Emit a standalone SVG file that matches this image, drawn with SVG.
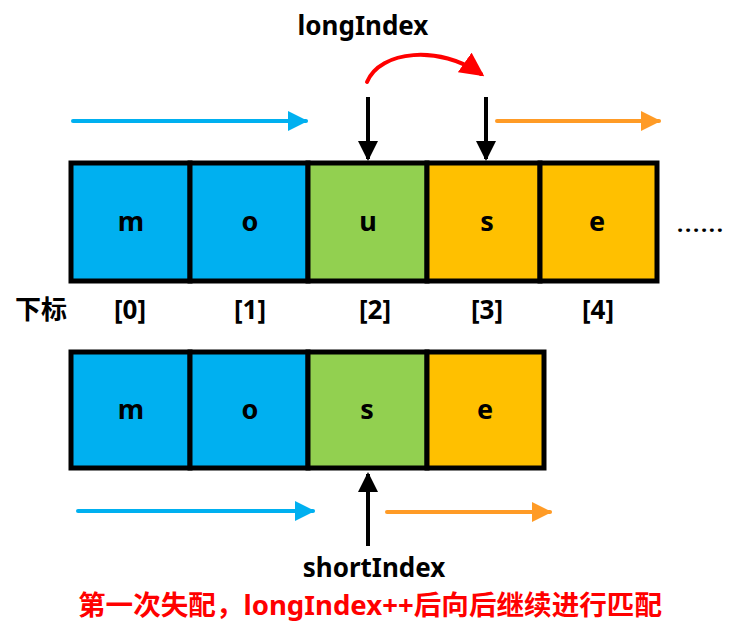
<svg xmlns="http://www.w3.org/2000/svg" width="738" height="635" viewBox="0 0 738 635">
<defs>
<style>
.cell{stroke:#000;stroke-width:5}
.b{fill:#00B0F0}.g{fill:#92D050}.y{fill:#FFC000}
.t{font-family:"Noto Sans","Noto Sans CJK SC",sans-serif;font-weight:bold;fill:#000}
.ch{font-size:27px;text-anchor:middle}
.idx{font-size:26px;text-anchor:middle}
.lbl{font-size:26px;text-anchor:middle}
.blk{stroke:#000;stroke-width:4;fill:none}
.bl{stroke:#00B0F0;stroke-width:4;fill:none;stroke-linecap:round}
.or{stroke:#FF9B26;stroke-width:4;fill:none;stroke-linecap:round}
.rd{stroke:#FF0000;stroke-width:4;fill:none;stroke-linecap:round}
</style>
<marker id="mk" markerWidth="5" markerHeight="5" refX="4.5" refY="2.5" orient="auto" markerUnits="strokeWidth"><path d="M0,0 L5,2.5 L0,5 z" fill="#000"/></marker>
<marker id="mb" markerWidth="5" markerHeight="5" refX="4.5" refY="2.5" orient="auto" markerUnits="strokeWidth"><path d="M0,0 L5,2.5 L0,5 z" fill="#00B0F0"/></marker>
<marker id="mo" markerWidth="5" markerHeight="5" refX="4.5" refY="2.5" orient="auto" markerUnits="strokeWidth"><path d="M0,0 L5,2.5 L0,5 z" fill="#FF9B26"/></marker>
<marker id="mr" markerWidth="6" markerHeight="6" refX="5" refY="3" orient="auto" markerUnits="strokeWidth"><path d="M0,0 L6,3 L0,6 z" fill="#FF0000"/></marker>
</defs>

<g id="top-0"><rect class="cell b" x="71" y="163" width="119" height="118"/><text class="t ch" x="131" y="231">m</text></g>
<g id="top-1"><rect class="cell b" x="190" y="163" width="118" height="118"/><text class="t ch" x="250" y="231">o</text></g>
<g id="top-2"><rect class="cell g" x="308" y="163" width="119" height="118"/><text class="t ch" x="368" y="231">u</text></g>
<g id="top-3"><rect class="cell y" x="427" y="163" width="113" height="118"/><text class="t ch" x="487" y="231">s</text></g>
<g id="top-4"><rect class="cell y" x="540" y="163" width="117" height="118"/><text class="t ch" x="597" y="231">e</text></g>
<g id="ellipsis"><text class="t" x="677" y="232" font-size="22" textLength="46">......</text></g>

<g id="indices">
<text class="t idx" x="41" y="319">下标</text>
<text class="t idx" x="130" y="319">[0]</text>
<text class="t idx" x="250" y="319">[1]</text>
<text class="t idx" x="375" y="319">[2]</text>
<text class="t idx" x="487" y="319">[3]</text>
<text class="t idx" x="598" y="319">[4]</text>
</g>

<g id="bot-0"><rect class="cell b" x="71" y="352" width="119" height="116"/><text class="t ch" x="131" y="419">m</text></g>
<g id="bot-1"><rect class="cell b" x="190" y="352" width="118" height="116"/><text class="t ch" x="250" y="419">o</text></g>
<g id="bot-2"><rect class="cell g" x="308" y="352" width="119" height="116"/><text class="t ch" x="367" y="419">s</text></g>
<g id="bot-3"><rect class="cell y" x="427" y="352" width="117" height="116"/><text class="t ch" x="485" y="419">e</text></g>

<g id="labels">
<text class="t lbl" x="363" y="35">longIndex</text>
<text class="t lbl" x="374" y="577">shortIndex</text>
<text class="t lbl" x="370" y="615" style="fill:#FF0000;font-size:27px" textLength="584" lengthAdjust="spacingAndGlyphs">第一次失配，longIndex++后向后继续进行匹配</text>
</g>

<g id="connectors">
<line class="bl" x1="73" y1="121" x2="306" y2="121" marker-end="url(#mb)"/>
<line class="or" x1="497" y1="121" x2="659" y2="121" marker-end="url(#mo)"/>
<line class="blk" x1="368" y1="97" x2="368" y2="159" marker-end="url(#mk)"/>
<line class="blk" x1="486" y1="97" x2="486" y2="159" marker-end="url(#mk)"/>
<path class="rd" d="M367,82 C380,50 440,45 481,74" marker-end="url(#mr)"/>
<line class="bl" x1="78" y1="511" x2="313" y2="511" marker-end="url(#mb)"/>
<line class="or" x1="387" y1="512" x2="550" y2="512" marker-end="url(#mo)"/>
<line class="blk" x1="368" y1="546" x2="368" y2="474" marker-end="url(#mk)"/>
</g>
</svg>
